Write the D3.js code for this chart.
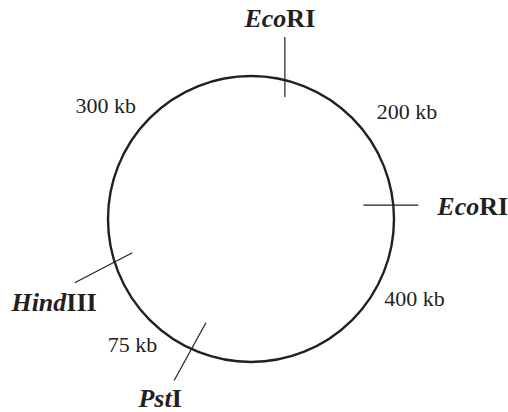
<!DOCTYPE html>
<html>
<head>
<meta charset="utf-8">
<script src="https://cdn.jsdelivr.net/npm/d3@7"></script>
<style>
  body { margin: 0; background: #fff; }
  text { font-family: "Liberation Serif", "Times New Roman", serif; fill: #231f20; }
</style>
</head>
<body>
<div class="container"></div>
<script>
// restriction sites, position on the map in degrees clockwise from the top
const siteItalic = ['Eco', 'Eco', 'Pst', 'Hind'];
const siteRoman = ['RI', 'RI', 'I', 'III'];
const siteAngles = [13.7, 84.4, 204.6, 252.5];

// fragment sizes between neighbouring sites
const segmentLabels = ['200 kb', '400 kb', '75 kb', '300 kb'];
const segmentAngles = [55.6, 116, 223.2, 307.9];

const width = 508;
const height = 412;
const cx = 251;
const cy = 219;
const radius = 143;

// tick styling for each site (tilt off the radius, length inside/outside)
const tickTilt = [-13.7, 5.6, 4.2, -10];
const tickIn = [17, 30, 30, 20];
const tickOut = [43, 25, 36, 45];
const labelAnchor = ['middle', 'start', 'middle', 'end'];
const labelShift = [[-5, -10], [19, 10], [-14, 26], [22, 28]];
const segmentRadius = [189, 182, 173, 184];

const rad = d3.scaleLinear().domain([0, 360]).range([0, 2 * Math.PI]);
const polar = (deg, r) => [cx + r * Math.sin(rad(deg)), cy - r * Math.cos(rad(deg))];

const svg = d3.select('.container')
  .append('svg')
  .attr('width', width)
  .attr('height', height);

// plasmid circle
svg.append('circle')
  .attr('cx', cx)
  .attr('cy', cy)
  .attr('r', radius)
  .attr('fill', 'none')
  .attr('stroke', '#231f20')
  .attr('stroke-width', 2.4);

const sites = siteAngles.map((a, i) => {
  const [x, y] = polar(a, radius);
  const dir = rad(a + tickTilt[i]);
  const ux = Math.sin(dir);
  const uy = -Math.cos(dir);
  return {
    i,
    x1: x - ux * tickIn[i], y1: y - uy * tickIn[i],
    x2: x + ux * tickOut[i], y2: y + uy * tickOut[i]
  };
});

// cut site ticks
svg.append('g')
  .selectAll('line')
  .data(sites)
  .enter()
  .append('line')
  .attr('x1', d => d.x1)
  .attr('y1', d => d.y1)
  .attr('x2', d => d.x2)
  .attr('y2', d => d.y2)
  .attr('stroke', '#231f20')
  .attr('stroke-width', 1.2);

// enzyme names
const names = svg.append('g')
  .selectAll('text')
  .data(sites)
  .enter()
  .append('text')
  .attr('x', d => d.x2 + labelShift[d.i][0])
  .attr('y', d => d.y2 + labelShift[d.i][1])
  .attr('text-anchor', d => labelAnchor[d.i])
  .style('font-size', '26px')
  .style('font-weight', 'bold');

names.append('tspan')
  .style('font-style', 'italic')
  .text(d => siteItalic[d.i]);
names.append('tspan')
  .text(d => siteRoman[d.i]);

// fragment sizes
svg.append('g')
  .selectAll('text')
  .data(segmentLabels)
  .enter()
  .append('text')
  .attr('x', (d, i) => polar(segmentAngles[i], segmentRadius[i])[0])
  .attr('y', (d, i) => polar(segmentAngles[i], segmentRadius[i])[1])
  .attr('dy', '0.33em')
  .attr('text-anchor', 'middle')
  .style('font-size', '22px')
  .text(d => d);
</script>
</body>
</html>
